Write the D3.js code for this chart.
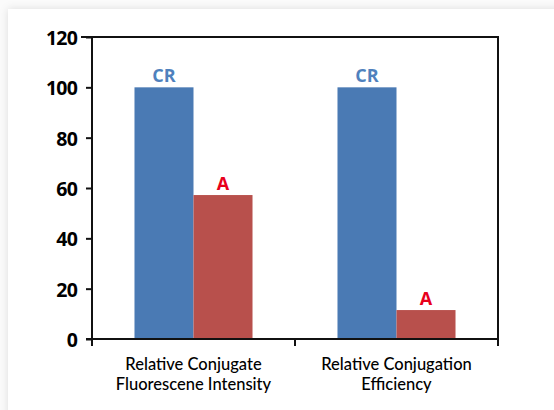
<!DOCTYPE html>
<html>
<head>
<meta charset="utf-8">
<script src="https://cdn.jsdelivr.net/npm/d3@7"></script>
<style>
html,body{margin:0;padding:0;background:#fff;}
svg{display:block;}
</style>
</head>
<body>
<svg id="c" width="554" height="410"></svg>
<script>
const categories = ["Relative Conjugate\nFluorescene Intensity", "Relative Conjugation\nEfficiency"];
const seriesNames = ["CR", "A"];
const crValues = [100, 100];
const aValues = [57.2, 11.5];
const yTicks = [0, 20, 40, 60, 80, 100, 120];
const seriesColors = ["#4a7ab4", "#b8504c"];
const labelColors = ["#4f81bd", "#e8001c"];

const svg = d3.select("#c");
const defs = svg.append("defs");
const f = defs.append("filter").attr("id","sh").attr("x","-10%").attr("y","-10%").attr("width","130%").attr("height","130%");
f.append("feDropShadow").attr("dx",0).attr("dy",0).attr("stdDeviation",4).attr("flood-color","#000").attr("flood-opacity",0.12);
svg.append("rect").attr("x",0).attr("y",0).attr("width",554).attr("height",410).attr("fill","#fbfbfb");
svg.append("rect").attr("x",8).attr("y",9).attr("width",600).attr("height",460).attr("fill","#fff").attr("filter","url(#sh)");

const L = 92, R = 498, T = 37, B = 339;
const x0 = d3.scaleBand().domain(d3.range(categories.length)).range([L, R]).padding(0);
const x1 = d3.scaleBand().domain(seriesNames).range([0, x0.bandwidth()]).paddingInner(0).paddingOuter(0.72);
const y = d3.scaleLinear().domain([0, 120]).range([B, T]);

const data = categories.map((c, i) => ({i, vals: [crValues[i], aValues[i]]}));

const g = svg.append("g");
const groups = g.selectAll("g.grp").data(data).enter().append("g")
  .attr("transform", d => `translate(${x0(d.i)},0)`);
groups.selectAll("rect").data(d => d.vals.map((v, k) => ({k, v}))).enter().append("rect")
  .attr("x", d => x1(seriesNames[d.k]))
  .attr("y", d => y(d.v))
  .attr("width", x1.bandwidth())
  .attr("height", d => y(0) - y(d.v))
  .attr("fill", d => seriesColors[d.k]);
groups.selectAll("text").data(d => d.vals.map((v, k) => ({k, v}))).enter().append("text")
  .attr("x", d => x1(seriesNames[d.k]) + x1.bandwidth()/2)
  .attr("y", d => y(d.v) - 5)
  .attr("text-anchor", "middle")
  .attr("font-family", "'Open Sans', sans-serif")
  .attr("font-weight", "bold")
  .attr("font-size", 18)
  .attr("fill", d => labelColors[d.k])
  .text(d => seriesNames[d.k]);

// axes
const yAxis = d3.axisLeft(y).tickValues(yTicks).tickSize(6).tickPadding(9);
const ya = svg.append("g").attr("transform", `translate(${L},0)`).call(yAxis);
ya.select(".domain").remove();
ya.selectAll(".tick line").attr("stroke", "#111").attr("stroke-width", 2);
ya.selectAll(".tick text").attr("font-family", "'Open Sans', sans-serif").attr("font-weight", "bold")
  .attr("font-size", 19.5).attr("fill", "#000").attr("letter-spacing", -0.8).attr("dy", "0.38em");

const xAxis = d3.axisBottom(x0).tickValues([]).tickSize(0);
const xa = svg.append("g").attr("transform", `translate(0,${B})`).call(xAxis);
xa.select(".domain").remove();
const xTickPos = [L, x0(1), R];
xa.selectAll("line.tk").data(xTickPos).enter().append("line")
  .attr("x1", d => d).attr("x2", d => d).attr("y1", 0).attr("y2", 7)
  .attr("stroke", "#111").attr("stroke-width", 2);

// frame
const frame = svg.append("g").attr("fill","none").attr("stroke","#111").attr("stroke-width",2);
frame.append("line").attr("x1", L).attr("x2", L).attr("y1", T).attr("y2", B + 7);
frame.append("line").attr("x1", L - 11).attr("x2", R + 1).attr("y1", T).attr("y2", T);
frame.append("line").attr("x1", R).attr("x2", R).attr("y1", T).attr("y2", B + 7);
frame.append("line").attr("x1", L - 6).attr("x2", R + 1).attr("y1", B).attr("y2", B);

// category labels
categories.forEach((c, i) => {
  c.split("\n").forEach((ln, k) => {
    svg.append("text")
      .attr("x", x0(i) + x0.bandwidth()/2)
      .attr("y", 370 + k * 20)
      .attr("text-anchor", "middle")
      .attr("font-family", "Lato, 'Open Sans', sans-serif")
      .attr("font-weight", 500)
      .attr("font-size", 16.5)
      .attr("fill", "#000")
      .text(ln);
  });
});
</script>
</body>
</html>
